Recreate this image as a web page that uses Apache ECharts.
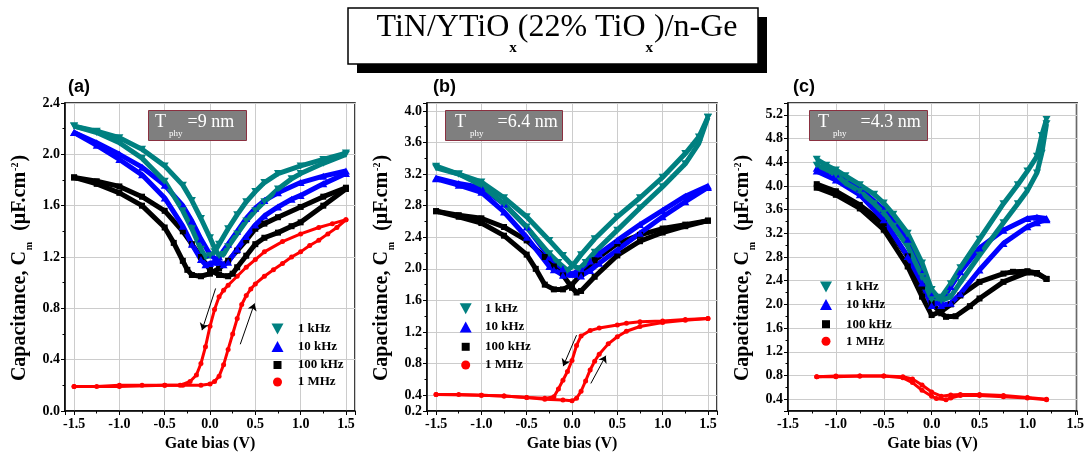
<!DOCTYPE html>
<html><head><meta charset="utf-8">
<script src="https://cdn.jsdelivr.net/npm/echarts@6/dist/echarts.min.js"></script>
<style>html,body{margin:0;padding:0;background:#fff}#c{width:1087px;height:457px}</style>
</head><body><div id="c"></div>
<script>
// ---------- DATA (Gate bias V, Capacitance uF/cm2) ----------
const seriesNames = ['1 kHz', '10 kHz', '100 kHz', '1 MHz'];
const panelLabels = ['(a)', '(b)', '(c)'];
const thickness = ['=9 nm', '=6.4 nm', '=4.3 nm'];
const mainTitleParts = ['TiN/YTiO', 'x', '(22% TiO', 'x', ')/n-Ge'];

// panel (a)
const a1kFwd = [[-1.5,2.22],[-1.25,2.18],[-1.0,2.13],[-0.75,2.04],[-0.5,1.91],[-0.3,1.76],[-0.2,1.64],[-0.1,1.50],[0.0,1.35],[0.05,1.27],[0.1,1.21],[0.15,1.22],[0.2,1.28],[0.3,1.38],[0.4,1.48],[0.5,1.56],[0.6,1.63],[0.75,1.73],[0.9,1.81],[1.0,1.85],[1.25,1.93],[1.5,2.0]];
const a1kRev = [[1.5,2.01],[1.25,1.96],[1.0,1.91],[0.75,1.85],[0.6,1.78],[0.5,1.71],[0.4,1.63],[0.3,1.53],[0.2,1.42],[0.1,1.30],[0.05,1.24],[0.0,1.21],[-0.05,1.20],[-0.1,1.26],[-0.2,1.42],[-0.3,1.56],[-0.5,1.79],[-0.75,1.97],[-1.0,2.09],[-1.25,2.17],[-1.5,2.22]];
const a10kFwd = [[-1.5,2.17],[-1.25,2.09],[-1.0,2.0],[-0.75,1.90],[-0.5,1.76],[-0.3,1.60],[-0.2,1.48],[-0.1,1.34],[0.0,1.22],[0.1,1.16],[0.15,1.14],[0.2,1.16],[0.3,1.26],[0.4,1.36],[0.5,1.45],[0.6,1.52],[0.75,1.59],[0.9,1.65],[1.0,1.68],[1.25,1.77],[1.5,1.85]];
const a10kRev = [[1.5,1.87],[1.25,1.83],[1.0,1.78],[0.75,1.70],[0.6,1.64],[0.5,1.58],[0.4,1.50],[0.3,1.40],[0.2,1.30],[0.1,1.20],[0.05,1.16],[0.0,1.15],[-0.05,1.14],[-0.1,1.18],[-0.2,1.30],[-0.3,1.44],[-0.5,1.66],[-0.75,1.84],[-1.0,1.96],[-1.25,2.07],[-1.5,2.17]];
const a100kFwd = [[-1.5,1.82],[-1.25,1.79],[-1.0,1.75],[-0.75,1.67],[-0.5,1.56],[-0.3,1.40],[-0.2,1.30],[-0.1,1.20],[0.0,1.10],[0.1,1.06],[0.2,1.05],[0.25,1.07],[0.3,1.12],[0.4,1.21],[0.5,1.30],[0.6,1.35],[0.75,1.39],[0.9,1.44],[1.0,1.47],[1.25,1.60],[1.5,1.73]];
const a100kRev = [[1.5,1.74],[1.25,1.67],[1.0,1.59],[0.75,1.51],[0.6,1.46],[0.5,1.42],[0.4,1.33],[0.3,1.25],[0.2,1.17],[0.1,1.11],[0.0,1.07],[-0.1,1.05],[-0.2,1.06],[-0.25,1.10],[-0.3,1.17],[-0.4,1.31],[-0.5,1.43],[-0.75,1.60],[-1.0,1.70],[-1.25,1.77],[-1.5,1.82]];
const a1MFwd = [[-1.5,0.19],[-1.25,0.19],[-1.0,0.2],[-0.75,0.2],[-0.5,0.2],[-0.3,0.2],[-0.1,0.2],[0.0,0.21],[0.05,0.23],[0.1,0.27],[0.15,0.36],[0.2,0.48],[0.25,0.60],[0.3,0.72],[0.35,0.83],[0.4,0.90],[0.45,0.95],[0.5,0.99],[0.6,1.05],[0.7,1.10],[0.8,1.15],[0.9,1.20],[1.0,1.24],[1.1,1.29],[1.2,1.33],[1.3,1.38],[1.4,1.43],[1.5,1.49]];
const a1MRev = [[1.5,1.49],[1.35,1.46],[1.2,1.43],[1.0,1.38],[0.8,1.32],[0.6,1.24],[0.5,1.18],[0.4,1.12],[0.3,1.05],[0.2,0.98],[0.15,0.94],[0.1,0.89],[0.05,0.79],[0.0,0.66],[-0.05,0.50],[-0.1,0.37],[-0.15,0.28],[-0.22,0.23],[-0.33,0.20],[-0.5,0.20],[-1.0,0.19],[-1.5,0.19]];
const aArrows = [[[0.062,0.955],[-0.088,0.63]], [[0.334,0.52],[0.491,0.838]]];

// panel (b)
const b1kFwd = [[-1.5,3.28],[-1.25,3.20],[-1.0,3.10],[-0.75,2.90],[-0.5,2.66],[-0.25,2.36],[-0.1,2.17],[0.0,2.05],[0.08,2.00],[0.15,2.08],[0.25,2.21],[0.5,2.49],[0.75,2.77],[1.0,3.04],[1.25,3.33],[1.4,3.59],[1.5,3.92]];
const b1kRev = [[1.5,3.92],[1.4,3.67],[1.25,3.46],[1.0,3.16],[0.75,2.90],[0.5,2.66],[0.25,2.38],[0.1,2.18],[0.0,2.03],[-0.05,1.98],[-0.15,2.08],[-0.25,2.19],[-0.5,2.53],[-0.75,2.82],[-1.0,3.06],[-1.25,3.20],[-1.5,3.30]];
const b10kFwd = [[-1.5,3.15],[-1.25,3.08],[-1.0,3.03],[-0.75,2.82],[-0.5,2.53],[-0.25,2.15],[-0.1,2.0],[0.0,1.93],[0.1,1.91],[0.2,1.98],[0.3,2.07],[0.5,2.24],[0.75,2.45],[1.0,2.66],[1.25,2.85],[1.5,3.03]];
const b10kRev = [[1.5,3.05],[1.25,2.92],[1.0,2.74],[0.75,2.56],[0.5,2.36],[0.3,2.19],[0.2,2.10],[0.1,2.0],[0.0,1.93],[-0.1,1.92],[-0.2,1.99],[-0.25,2.03],[-0.5,2.40],[-0.75,2.72],[-1.0,2.97],[-1.25,3.06],[-1.5,3.14]];
const b100kFwd = [[-1.5,2.73],[-1.25,2.68],[-1.0,2.64],[-0.75,2.53],[-0.5,2.36],[-0.3,2.15],[-0.2,2.03],[-0.1,1.92],[0.0,1.76],[0.05,1.70],[0.1,1.72],[0.25,1.90],[0.5,2.17],[0.75,2.35],[1.0,2.46],[1.25,2.54],[1.5,2.61]];
const b100kRev = [[1.5,2.61],[1.25,2.56],[1.0,2.51],[0.75,2.43],[0.5,2.32],[0.25,2.11],[0.1,1.93],[0.0,1.80],[-0.1,1.74],[-0.2,1.74],[-0.3,1.80],[-0.4,2.0],[-0.5,2.18],[-0.75,2.42],[-1.0,2.58],[-1.25,2.66],[-1.5,2.73]];
const b1MFwd = [[-1.5,0.41],[-1.25,0.41],[-1.0,0.40],[-0.75,0.39],[-0.5,0.37],[-0.3,0.35],[-0.1,0.34],[0.0,0.33],[0.05,0.36],[0.1,0.45],[0.15,0.58],[0.2,0.72],[0.25,0.83],[0.3,0.92],[0.4,1.05],[0.5,1.14],[0.6,1.21],[0.75,1.27],[1.0,1.32],[1.25,1.35],[1.5,1.37]];
const b1MRev = [[1.5,1.37],[1.25,1.36],[1.0,1.34],[0.75,1.33],[0.6,1.31],[0.5,1.29],[0.3,1.25],[0.2,1.22],[0.1,1.15],[0.05,1.03],[0.0,0.84],[-0.05,0.70],[-0.1,0.59],[-0.15,0.48],[-0.2,0.38],[-0.3,0.36],[-0.5,0.37],[-0.75,0.39],[-1.0,0.40],[-1.5,0.41]];
const bArrows = [[[0.050,1.16],[-0.097,0.768]], [[0.208,0.549],[0.373,0.90]]];

// panel (c)
const c1kFwd = [[-1.2,4.45],[-1.1,4.35],[-1.0,4.27],[-0.9,4.17],[-0.75,4.02],[-0.6,3.86],[-0.5,3.71],[-0.4,3.52],[-0.25,3.20],[-0.1,2.70],[0.0,2.25],[0.1,2.06],[0.2,2.13],[0.3,2.37],[0.5,2.83],[0.75,3.38],[0.9,3.70],[1.0,3.92],[1.1,4.22],[1.15,4.55],[1.2,5.05]];
const c1kRev = [[1.2,5.12],[1.15,4.85],[1.1,4.50],[1.0,4.25],[0.9,4.02],[0.75,3.70],[0.5,3.10],[0.3,2.62],[0.2,2.35],[0.1,2.12],[0.0,2.08],[-0.1,2.47],[-0.25,2.98],[-0.4,3.32],[-0.5,3.54],[-0.6,3.70],[-0.75,3.91],[-0.9,4.05],[-1.0,4.19],[-1.1,4.28],[-1.2,4.35]];
const c10kFwd = [[-1.2,4.30],[-1.0,4.20],[-0.75,3.96],[-0.5,3.60],[-0.25,3.09],[-0.1,2.53],[0.0,2.15],[0.1,1.98],[0.2,2.02],[0.3,2.18],[0.5,2.58],[0.75,3.03],[1.0,3.31],[1.1,3.38],[1.2,3.43]];
const c10kRev = [[1.2,3.45],[1.1,3.47],[1.0,3.45],[0.75,3.25],[0.5,2.95],[0.3,2.55],[0.2,2.30],[0.1,2.05],[0.0,1.98],[-0.1,2.36],[-0.25,2.81],[-0.5,3.43],[-0.75,3.85],[-1.0,4.10],[-1.2,4.25]];
const c100kFwd = [[-1.2,4.03],[-1.0,3.91],[-0.75,3.68],[-0.5,3.37],[-0.25,2.81],[-0.1,2.30],[0.0,2.02],[0.1,1.85],[0.15,1.79],[0.25,1.80],[0.4,1.97],[0.5,2.10],[0.75,2.38],[1.0,2.54],[1.1,2.52],[1.2,2.43]];
const c100kRev = [[1.2,2.43],[1.1,2.53],[1.0,2.56],[0.85,2.55],[0.75,2.52],[0.5,2.38],[0.3,2.15],[0.2,2.0],[0.1,1.88],[0.0,1.82],[-0.1,2.13],[-0.25,2.64],[-0.5,3.26],[-0.75,3.62],[-1.0,3.85],[-1.2,3.97]];
const c1MFwd = [[-1.2,0.78],[-1.0,0.79],[-0.75,0.79],[-0.5,0.79],[-0.3,0.78],[-0.2,0.74],[-0.1,0.64],[0.0,0.52],[0.1,0.45],[0.2,0.47],[0.3,0.48],[0.5,0.48],[0.75,0.46],[1.0,0.43],[1.2,0.40]];
const c1MRev = [[1.2,0.39],[1.0,0.42],[0.75,0.44],[0.5,0.46],[0.3,0.46],[0.2,0.42],[0.15,0.39],[0.05,0.41],[0.0,0.45],[-0.1,0.55],[-0.2,0.68],[-0.3,0.76],[-0.5,0.79],[-0.75,0.79],[-1.0,0.78],[-1.2,0.78]];

// axis ranges
const xRanges = [[-1.6, 1.6], [-1.6, 1.6], [-1.5, 1.52]];
const yRanges = [[0, 2.4], [0.2, 4.1], [0.2, 5.4]];
const xStep = 0.5, yStep = 0.4;

// ---------- STYLE / LAYOUT ----------
const SERIF = 'Liberation Serif, Times New Roman, serif';
const DOWN = 'path://M0,0L12,0L6,11Z';
const styles = {
  '1 kHz':   {color: '#008080', symbol: DOWN, size: [8, 7], icon: DOWN, iw: 12, ih: 11, lw: 5},
  '10 kHz':  {color: '#0000ff', symbol: 'triangle', size: [8, 7], icon: 'triangle', iw: 12, ih: 11, lw: 5},
  '100 kHz': {color: '#000000', symbol: 'rect', size: 6, icon: 'rect', iw: 8, ih: 8, lw: 5},
  '1 MHz':   {color: '#ff0000', symbol: 'circle', size: 5, icon: 'circle', iw: 9, ih: 9, lw: 3}
};
const gridBoxes = [
  {left: 65, top: 103, width: 290, height: 308},
  {left: 427, top: 103, width: 290, height: 308},
  {left: 788, top: 103, width: 291, height: 308}
];
const legendPos = [
  {cx: 277.5, tx: 297.7, rows: [328, 345.5, 362.5, 380]},
  {cx: 465.7, tx: 485, rows: [307.7, 326, 344.3, 363]},
  {cx: 826, tx: 846, rows: [286, 303.5, 321.7, 339.3]}
];
const insetBox = [
  {left: 148, pad: [3, 13, 3, 7], subPad: [16, 5, 0, 3]},
  {left: 445, pad: [3, 5, 3, 10], subPad: [16, 14, 0, 4]},
  {left: 809, pad: [3, 7, 3, 9], subPad: [16, 14, 0, 4]}
];
const panelData = [
  {'1 kHz': [a1kFwd, a1kRev], '10 kHz': [a10kFwd, a10kRev], '100 kHz': [a100kFwd, a100kRev], '1 MHz': [a1MFwd, a1MRev], arrows: aArrows},
  {'1 kHz': [b1kFwd, b1kRev], '10 kHz': [b10kFwd, b10kRev], '100 kHz': [b100kFwd, b100kRev], '1 MHz': [b1MFwd, b1MRev], arrows: bArrows},
  {'1 kHz': [c1kFwd, c1kRev], '10 kHz': [c10kFwd, c10kRev], '100 kHz': [c100kFwd, c100kRev], '1 MHz': [c1MFwd, c1MRev], arrows: null}
];

const grids = [], xAxes = [], yAxes = [], series = [], legends = [], titles = [], graphics = [];

const axisCommon = {
  axisLine: {show: true, onZero: false, lineStyle: {color: '#000', width: 1.5}},
  axisTick: {show: true, inside: false, length: 4, lineStyle: {color: '#000', width: 1}},
  minorTick: {show: true, splitNumber: 2, length: 2.5, lineStyle: {color: '#000', width: 1}},
  splitLine: {show: true, lineStyle: {color: '#cccccc', width: 1}},
  minorSplitLine: {show: false},
  axisLabel: {color: '#000', fontFamily: SERIF, fontWeight: 'bold', fontSize: 14, formatter: v => v.toFixed(1)}
};

for (let p = 0; p < 3; p++) {
  grids.push(Object.assign({show: true, borderColor: '#000', borderWidth: 1.5, backgroundColor: '#fff', containLabel: false}, gridBoxes[p]));
  xAxes.push(Object.assign({}, axisCommon, {
    type: 'value', gridIndex: p, min: xRanges[p][0], max: xRanges[p][1],
    minInterval: xStep, maxInterval: xStep,
    axisLabel: Object.assign({}, axisCommon.axisLabel, {margin: 6}),
    name: 'Gate bias (V)', nameLocation: 'middle', nameGap: 23,
    nameTextStyle: {fontFamily: SERIF, fontWeight: 'bold', fontSize: 16, color: '#000'}
  }));
  yAxes.push(Object.assign({}, axisCommon, {
    type: 'value', gridIndex: p, min: yRanges[p][0], max: yRanges[p][1],
    minInterval: yStep, maxInterval: yStep,
    axisLabel: Object.assign({}, axisCommon.axisLabel, {margin: 5}),
    name: '{a|Capacitance, C}{sub|m}{a|  (μF.cm}{sup|-2}{a|)}', nameLocation: 'middle', nameGap: 33,
    nameTextStyle: {
      color: '#000', padding: [0, 22, 0, 0],
      rich: {
        a: {fontFamily: SERIF, fontWeight: 'bold', fontSize: 20, color: '#000', lineHeight: 22, verticalAlign: 'top'},
        sub: {fontFamily: SERIF, fontWeight: 'bold', fontSize: 10, color: '#000', lineHeight: 10, verticalAlign: 'top', padding: [14, 1, 0, 1]},
        sup: {fontFamily: SERIF, fontWeight: 'bold', fontSize: 10, color: '#000', lineHeight: 10, verticalAlign: 'top', padding: [0, 1, 0, 1]}
      }
    }
  }));

  const order = ['1 MHz', '100 kHz', '10 kHz', '1 kHz'];
  order.forEach(name => {
    const st = styles[name];
    panelData[p][name].forEach((branch, bi) => {
      const s = {
        type: 'line', name, xAxisIndex: p, yAxisIndex: p, data: branch,
        symbol: st.symbol, symbolSize: st.size, showSymbol: true, symbolKeepAspect: false,
        lineStyle: {color: st.color, width: st.lw},
        itemStyle: {color: st.color},
        emphasis: {disabled: true}, animation: false, clip: true, z: 3
      };
      if (name === '1 MHz' && bi === 0 && panelData[p].arrows) {
        s.markLine = {
          silent: true, symbol: ['none', 'arrow'], symbolSize: 7, animation: false,
          lineStyle: {color: '#000', width: 1, type: 'solid'}, label: {show: false},
          emphasis: {disabled: true},
          data: panelData[p].arrows.map(a => [{coord: a[0]}, {coord: a[1]}])
        };
      }
      series.push(s);
    });
  });

  const lp = legendPos[p];
  seriesNames.forEach((name, i) => {
    const st = styles[name];
    legends.push({
      show: true, selectedMode: false, orient: 'horizontal', padding: 0,
      left: lp.cx - st.iw / 2, top: lp.rows[i] - st.ih / 2,
      itemWidth: st.iw, itemHeight: st.ih,
      data: [{name, icon: st.icon, itemStyle: {color: st.color}}],
      textStyle: {fontFamily: SERIF, fontWeight: 'bold', fontSize: 13, color: '#000',
        padding: [0, 0, 0, lp.tx - lp.cx - st.iw / 2 - 5]}
    });
  });

  const ib = insetBox[p];
  titles.push({
    text: '{t|T}{s|phy}{t|' + thickness[p] + '}',
    left: ib.left, top: 110,
    backgroundColor: '#7f7f7f', borderColor: '#8a3040', borderWidth: 1,
    padding: ib.pad,
    textStyle: {
      fontWeight: 'normal',
      rich: {
        t: {fontFamily: SERIF, fontWeight: 'normal', fontSize: 18, color: '#fff', lineHeight: 20, verticalAlign: 'top'},
        s: {fontFamily: SERIF, fontWeight: 'normal', fontSize: 9, color: '#fff', lineHeight: 10, verticalAlign: 'top', padding: ib.subPad}
      }
    }
  });

  graphics.push({
    type: 'text', left: [68, 433, 793][p], top: 78,
    style: {text: panelLabels[p], fontFamily: 'Liberation Sans, Arial, sans-serif', fontWeight: 'bold', fontSize: 18, fill: '#000'}
  });
}

// main title box
graphics.push({type: 'rect', shape: {x: 357, y: 17, width: 410, height: 56}, style: {fill: '#000'}, z: 10});
graphics.push({type: 'rect', shape: {x: 348, y: 8, width: 410, height: 56}, style: {fill: '#fff', stroke: '#000', lineWidth: 1.5}, z: 11});
graphics.push({
  type: 'text', x: 557, y: 12, z: 12,
  style: {
    text: '{m|' + mainTitleParts[0] + '}{s|' + mainTitleParts[1] + '}{m|' + mainTitleParts[2] + '}{s|' + mainTitleParts[3] + '}{m|' + mainTitleParts[4] + '}',
    align: 'center', verticalAlign: 'top',
    rich: {
      m: {fontFamily: SERIF, fontSize: 32, fill: '#000', lineHeight: 36, verticalAlign: 'top'},
      s: {fontFamily: SERIF, fontWeight: 'bold', fontSize: 15, fill: '#000', lineHeight: 15, verticalAlign: 'top', padding: [29, 1, 0, 0]}
    }
  }
});

const chart = echarts.init(document.getElementById('c'), null, {renderer: 'canvas'});
chart.setOption({
  backgroundColor: '#fff',
  animation: false,
  grid: grids, xAxis: xAxes, yAxis: yAxes, series,
  legend: legends, title: titles, graphic: graphics,
  tooltip: {show: false}
});
</script></body></html>
